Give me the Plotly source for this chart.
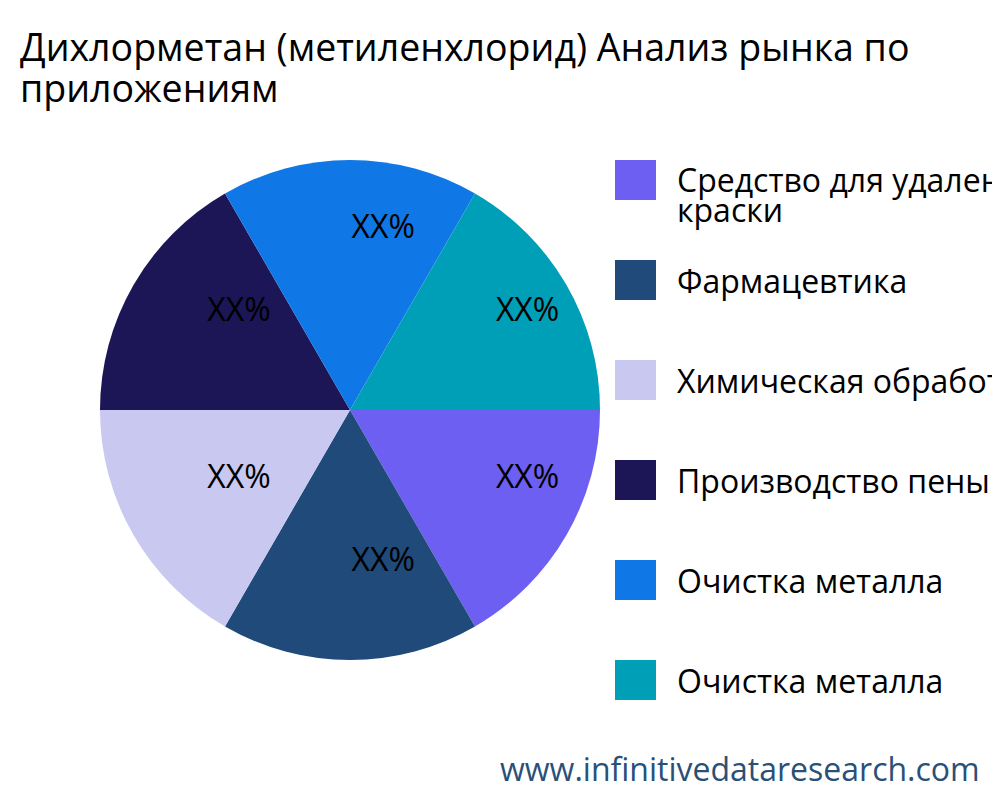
import plotly.graph_objects as go

title_lines = ["Дихлорметан (метиленхлорид) Анализ рынка по", "приложениям"]
labels = ["Средство для удаления<br>краски", "Фармацевтика", "Химическая обработка",
          "Производство пены", "Очистка металла", "Очистка металла "]
values = [1, 1, 1, 1, 1, 1]
texts = ["XX%"] * 6
colors = ["#6c5ff2", "#1f4a7a", "#c8c8f0", "#1c1656", "#0f78e6", "#009fb8"]

FONT = "Open Sans"
W, H = 1000, 800
OX, OY = 8, 8  # page offset


def px(x):
    return (x - OX) / W


def py(y):
    return 1 - (y - OY) / H


NB = "\u00a0" * 8
fig = go.Figure(go.Pie(
    labels=labels, values=values, text=texts, textinfo="text",
    texttemplate=NB + "%{text}<br><span style='font-size:10px'>\u00a0</span>",
    marker=dict(colors=colors), sort=False, direction="clockwise", rotation=90,
    textfont=dict(size=32, color="black", family=FONT),
    insidetextorientation="horizontal",
    domain=dict(x=[px(100), px(600)], y=[py(660), py(160)]), showlegend=False,
))

for i, (lab, col) in enumerate(zip(labels, colors)):
    yc = 180 + 100 * i
    fig.add_shape(type="rect", xref="paper", yref="paper",
                  x0=px(615), x1=px(656), y0=py(yc + 20), y1=py(yc - 20),
                  fillcolor=col, line=dict(width=0))
    for j, p in enumerate(lab.split("<br>")):
        fig.add_annotation(xref="paper", yref="paper", x=px(675), y=py(yc + j * 30),
                           text=p, showarrow=False, xanchor="left", yanchor="middle",
                           align="left", font=dict(size=32, color="black", family=FONT))

for j, t in enumerate(title_lines):
    fig.add_annotation(xref="paper", yref="paper", x=px(18), y=py(47 + j * 41),
                       text=t, showarrow=False, xanchor="left", yanchor="middle",
                       font=dict(size=37.5, color="black", family=FONT))

fig.add_annotation(xref="paper", yref="paper", x=px(982), y=py(768),
                   text="www.infinitivedataresearch.com", showarrow=False,
                   xanchor="right", yanchor="middle",
                   font=dict(size=32, color="#2a5078", family=FONT))

fig.update_layout(
    width=W, height=H, margin=dict(l=0, r=0, t=0, b=0),
    paper_bgcolor="white", font=dict(family=FONT),
)
fig.write_html("out.html")
